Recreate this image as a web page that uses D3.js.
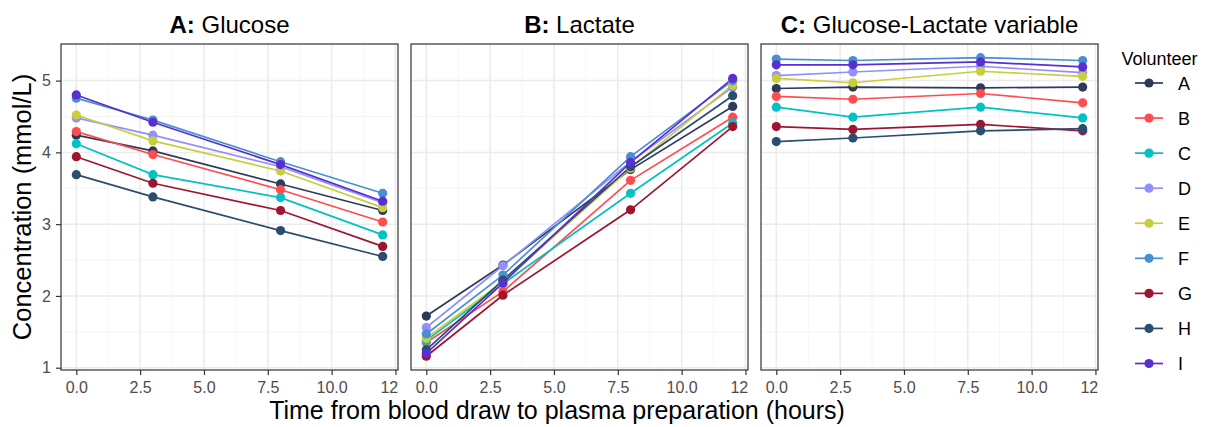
<!DOCTYPE html>
<html>
<head>
<meta charset="utf-8">
<script src="https://cdn.jsdelivr.net/npm/d3@7"></script>
<style>
  body { margin: 0; background: #fff; }
  svg { font-family: "Liberation Sans", Arial, Helvetica, sans-serif; }
</style>
</head>
<body>
<div id="chart"></div>
<script>
// data
const times = [0, 3, 8, 12];
const volunteers = ["A", "B", "C", "D", "E", "F", "G", "H", "I"];
const colours = ["#2d3a5a", "#ff4c4f", "#00c2c2", "#9290ff", "#c9cd3e", "#4a8fd4", "#9e1530", "#2a4d70", "#5a2fd0"];
const panelTitles = [["A:", " Glucose"], ["B:", " Lactate"], ["C:", " Glucose-Lactate variable"]];

const glucose = [
  [4.24, 4.02, 3.56, 3.19],
  [4.29, 3.97, 3.48, 3.03],
  [4.12, 3.69, 3.37, 2.85],
  [4.48, 4.24, 3.80, 3.30],
  [4.52, 4.16, 3.74, 3.23],
  [4.755, 4.45, 3.87, 3.43],
  [3.94, 3.57, 3.19, 2.69],
  [3.69, 3.38, 2.91, 2.55],
  [4.80, 4.42, 3.83, 3.32]
];
const lactate = [
  [1.72, 2.43, 3.76, 4.64],
  [1.35, 2.06, 3.61, 4.49],
  [1.38, 2.17, 3.43, 4.41],
  [1.56, 2.42, 3.87, 4.91],
  [1.41, 2.20, 3.78, 4.94],
  [1.47, 2.29, 3.94, 5.00],
  [1.16, 2.01, 3.20, 4.36],
  [1.25, 2.22, 3.80, 4.79],
  [1.20, 2.18, 3.86, 5.03]
];
const combined = [
  [4.89, 4.91, 4.90, 4.91],
  [4.78, 4.74, 4.82, 4.69],
  [4.63, 4.49, 4.63, 4.48],
  [5.07, 5.12, 5.20, 5.11],
  [5.03, 4.97, 5.13, 5.06],
  [5.30, 5.28, 5.32, 5.28],
  [4.36, 4.32, 4.39, 4.30],
  [4.15, 4.20, 4.30, 4.33],
  [5.22, 5.22, 5.26, 5.19]
];
const panels = [glucose, lactate, combined];

const xTicks = [0, 2.5, 5, 7.5, 10, 12.5];
const yTicks = [1, 2, 3, 4, 5];
const xMinor = [1.25, 3.75, 6.25, 8.75, 11.25];
const yMinor = [1.5, 2.5, 3.5, 4.5];

const W = 1212, H = 427;
const panelW = 337, panelTop = 44, panelBottom = 370;
const panelLefts = [61, 411, 761];
const TICK_FONT = "16px";

const svg = d3.select("#chart").append("svg")
  .attr("width", W).attr("height", H);

const x = d3.scaleLinear().domain([-0.6, 12.6]).range([0, panelW]);
const y = d3.scaleLinear().domain([0.968, 5.51]).range([panelBottom, panelTop]);

const line = d3.line().x((d, i) => x(times[i])).y(d => y(d));

panels.forEach((data, p) => {
  const g = svg.append("g").attr("transform", `translate(${panelLefts[p]},0)`);

  // tick labels get cut at the panel's right edge (the "12.5" shows as "12")
  g.append("clipPath").attr("id", "clipx" + p)
    .append("rect").attr("x", -40).attr("y", 0).attr("width", panelW + 41).attr("height", H);

  // grid
  g.selectAll(".ymin").data(yMinor).enter().append("line")
    .attr("x1", 0).attr("x2", panelW).attr("y1", d => y(d)).attr("y2", d => y(d))
    .attr("stroke", "#f3f3f3").attr("stroke-width", 0.8);
  g.selectAll(".xmin").data(xMinor).enter().append("line")
    .attr("y1", panelTop).attr("y2", panelBottom).attr("x1", d => x(d)).attr("x2", d => x(d))
    .attr("stroke", "#f3f3f3").attr("stroke-width", 0.8);
  g.selectAll(".ymaj").data(yTicks).enter().append("line")
    .attr("x1", 0).attr("x2", panelW).attr("y1", d => y(d)).attr("y2", d => y(d))
    .attr("stroke", "#ebebeb").attr("stroke-width", 1.5);
  g.selectAll(".xmaj").data(xTicks).enter().append("line")
    .attr("y1", panelTop).attr("y2", panelBottom).attr("x1", d => x(d)).attr("x2", d => x(d))
    .attr("stroke", "#ebebeb").attr("stroke-width", 1.5);

  // series: all lines first, then the points
  data.forEach((vals, i) => {
    g.append("path").datum(vals)
      .attr("d", line)
      .attr("fill", "none")
      .attr("stroke", colours[i])
      .attr("stroke-width", 1.7);
  });
  data.forEach((vals, i) => {
    g.selectAll(".pt" + i).data(vals).enter().append("circle")
      .attr("cx", (d, j) => x(times[j]))
      .attr("cy", d => y(d))
      .attr("r", 4.6)
      .attr("fill", colours[i]);
  });

  // border
  g.append("rect").attr("x", 0).attr("y", panelTop)
    .attr("width", panelW).attr("height", panelBottom - panelTop)
    .attr("fill", "none").attr("stroke", "#333").attr("stroke-width", 1.2);

  // x axis
  const xAxis = g.append("g")
    .attr("transform", `translate(0,${panelBottom})`)
    .attr("clip-path", `url(#clipx${p})`)
    .call(d3.axisBottom(x).tickValues(xTicks).tickFormat(d3.format(".1f")).tickSize(5).tickPadding(7));
  xAxis.select(".domain").remove();
  xAxis.selectAll(".tick line").attr("stroke", "#333").attr("stroke-width", 1.2);
  xAxis.selectAll(".tick text").attr("fill", "#4d4d4d").style("font-size", TICK_FONT)
    .style("font-family", "'Liberation Sans', Arial, sans-serif");

  // y axis on first panel only
  if (p === 0) {
    const yAxis = g.append("g")
      .call(d3.axisLeft(y).tickValues(yTicks).tickFormat(d3.format("d")).tickSize(5).tickPadding(5));
    yAxis.select(".domain").remove();
    yAxis.selectAll(".tick line").attr("stroke", "#333").attr("stroke-width", 1.2);
    yAxis.selectAll(".tick text").attr("fill", "#4d4d4d").style("font-size", TICK_FONT)
      .style("font-family", "'Liberation Sans', Arial, sans-serif");
  }

  // panel title
  const t = g.append("text")
    .attr("x", panelW / 2).attr("y", 32.5)
    .attr("text-anchor", "middle")
    .style("font-size", "24px").attr("fill", "#000");
  t.append("tspan").attr("font-weight", "bold").text(panelTitles[p][0]);
  t.append("tspan").text(panelTitles[p][1]);
});

// axis titles
svg.append("text")
  .attr("x", 557).attr("y", 419)
  .attr("text-anchor", "middle")
  .style("font-size", "25px")
  .text("Time from blood draw to plasma preparation (hours)");

svg.append("text")
  .attr("transform", `translate(31,${(panelTop + panelBottom) / 2}) rotate(-90)`)
  .attr("text-anchor", "middle")
  .style("font-size", "25.5px")
  .text("Concentration (mmol/L)");

// legend
const legend = svg.append("g").attr("transform", "translate(1120,0)");
legend.append("text").attr("x", 1.5).attr("y", 65)
  .style("font-size", "18px").text("Volunteer");
const ly = d3.scalePoint().domain(volunteers).range([83, 363.5]);
const items = legend.selectAll(".item").data(volunteers).enter().append("g")
  .attr("transform", d => `translate(0,${ly(d)})`);
items.append("line").attr("x1", 15).attr("x2", 43).attr("y1", 0).attr("y2", 0)
  .attr("stroke", (d, i) => colours[i]).attr("stroke-width", 1.7);
items.append("circle").attr("cx", 29).attr("cy", 0).attr("r", 4.6)
  .attr("fill", (d, i) => colours[i]);
items.append("text").attr("x", 58).attr("y", 6.5)
  .style("font-size", "18px").text(d => d);
</script>
</body>
</html>
